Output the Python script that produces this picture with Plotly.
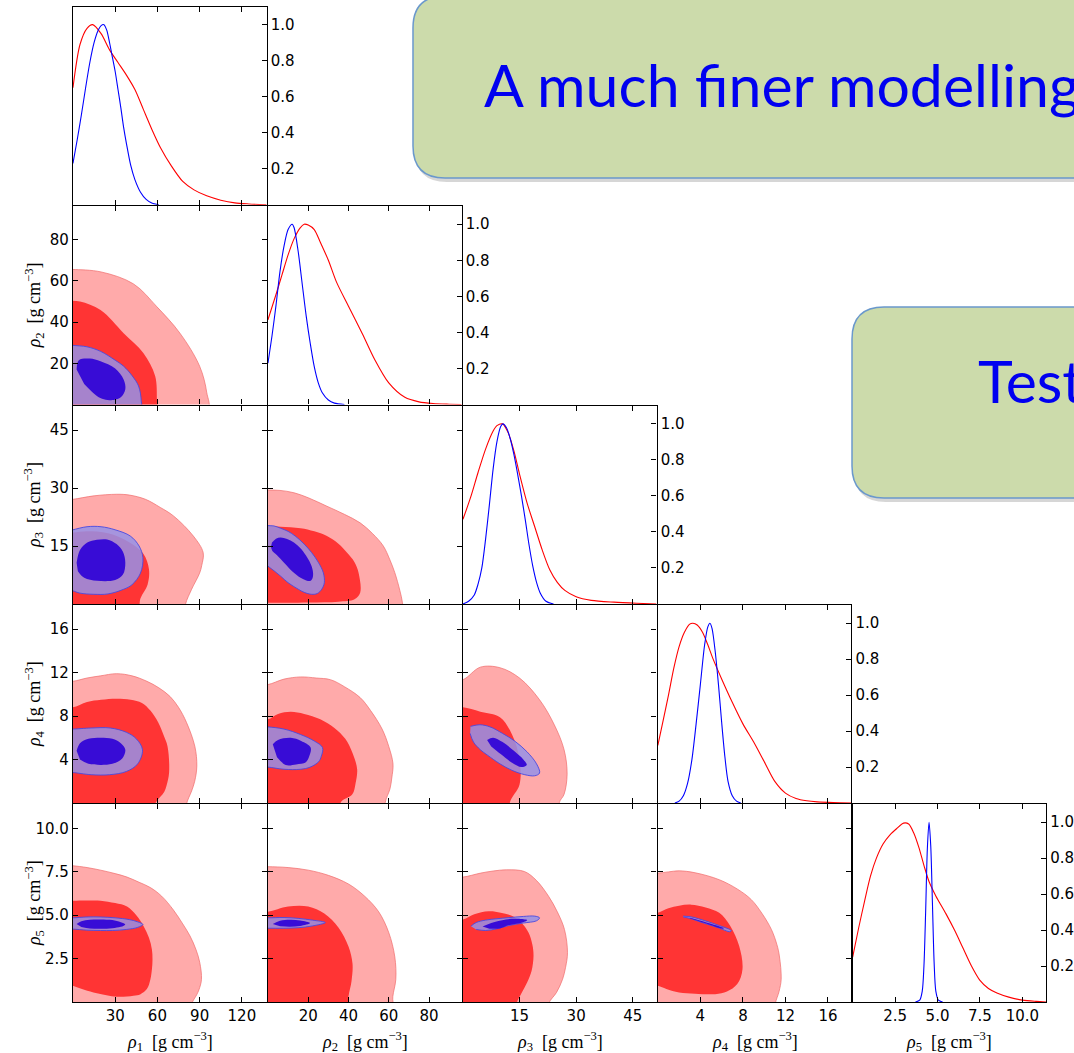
import plotly.graph_objects as go

# ---------------------------------------------------------------------------
# Figure geometry (pixels)
# ---------------------------------------------------------------------------
W, H = 1074, 1053
X_EDGES = [72.3, 267.3, 462.3, 657.2, 852.0, 1046.8]
Y_EDGES = [6.0, 205.5, 405.2, 604.6, 803.6, 1002.6]
LW = 1.3  # frame line width; panels are inset so neighbouring frames coincide

# ---------------------------------------------------------------------------
# Parameters, axis ranges and ticks
# ---------------------------------------------------------------------------
PARAM_IDX = ["1", "2", "3", "4", "5"]
RANGES = [137.6, 96.2, 51.3, 18.2, 11.4]
TICKS = [[30, 60, 90, 120], [20, 40, 60, 80], [15, 30, 45], [4, 8, 12, 16], [2.5, 5.0, 7.5, 10.0]]
TICK_TEXT = [["30", "60", "90", "120"], ["20", "40", "60", "80"], ["15", "30", "45"],
             ["4", "8", "12", "16"], ["2.5", "5.0", "7.5", "10.0"]]
DIAG_TICKS = [0.2, 0.4, 0.6, 0.8, 1.0]
DIAG_TICK_TEXT = ["0.2", "0.4", "0.6", "0.8", "1.0"]

# ---------------------------------------------------------------------------
# 1D marginal posteriors (normalised to peak = 1)
# ---------------------------------------------------------------------------
RHO1_RED_X = [0, 5, 10, 14, 20, 26, 32, 38, 44, 50, 56, 62, 70, 78, 86, 95, 105, 115, 125, 137.6]
RHO1_RED_Y = [0.65, 0.89, 0.98, 1.0, 0.95, 0.86, 0.79, 0.72, 0.64, 0.53, 0.42, 0.32, 0.215, 0.13,
              0.083, 0.05, 0.026, 0.011, 0.005, 0.0]
RHO1_BLUE_X = [0, 3, 6, 9, 12, 15, 18, 20, 22, 24, 26, 28, 30, 32, 34, 36, 38, 41, 44, 48, 52, 56, 61]
RHO1_BLUE_Y = [0.23, 0.36, 0.5, 0.65, 0.79, 0.9, 0.97, 0.995, 1.0, 0.97, 0.9, 0.82, 0.74, 0.64,
               0.54, 0.43, 0.34, 0.22, 0.14, 0.07, 0.03, 0.01, 0.0]

RHO2_RED_X = [0, 4, 7, 10, 13, 16, 18, 20, 23, 26, 30, 34, 40, 47, 53, 60, 68, 75, 82, 90, 96.2]
RHO2_RED_Y = [0.47, 0.61, 0.72, 0.83, 0.92, 0.98, 1.0, 0.995, 0.97, 0.9, 0.8, 0.68, 0.545, 0.39,
              0.25, 0.12, 0.04, 0.015, 0.006, 0.002, 0.0]
RHO2_BLUE_X = [0, 2, 4, 6, 8, 10, 12, 13, 15, 17, 19, 21, 23, 25, 27, 30, 33, 38]
RHO2_BLUE_Y = [0.23, 0.38, 0.55, 0.74, 0.88, 0.97, 1.0, 0.98, 0.85, 0.67, 0.49, 0.34, 0.21, 0.12,
               0.065, 0.025, 0.008, 0.0]

RHO3_RED_X = [0, 2, 4, 6, 8, 9, 10.5, 12, 13.5, 15, 17, 19, 21, 23, 25, 27, 30, 34, 40, 46, 51.3]
RHO3_RED_Y = [0.47, 0.59, 0.73, 0.86, 0.96, 0.99, 1.0, 0.95, 0.85, 0.72, 0.56, 0.43, 0.3, 0.19,
              0.12, 0.075, 0.04, 0.02, 0.01, 0.004, 0.0]
RHO3_BLUE_X = [0, 1.5, 3, 4, 5, 6, 7, 8, 9, 10, 10.6, 11.5, 12.5, 13.5, 14.5, 15.5, 16.5, 17.5,
               18.5, 19.5, 20.5, 22, 24]
RHO3_BLUE_Y = [0.0, 0.015, 0.05, 0.11, 0.2, 0.36, 0.55, 0.75, 0.9, 0.985, 1.0, 0.98, 0.92, 0.83,
               0.72, 0.6, 0.47, 0.33, 0.21, 0.12, 0.06, 0.015, 0.0]

RHO4_RED_X = [0, 0.5, 1, 1.5, 2, 2.5, 3, 3.3, 3.7, 4.2, 4.7, 5.2, 6, 7, 8, 9, 10, 11, 12, 13, 14,
              15, 16.5, 18.2]
RHO4_RED_Y = [0.32, 0.46, 0.6, 0.75, 0.87, 0.95, 0.995, 1.0, 0.99, 0.95, 0.88, 0.8, 0.69, 0.56,
              0.44, 0.34, 0.23, 0.12, 0.055, 0.025, 0.012, 0.006, 0.002, 0.0]
RHO4_BLUE_X = [1.6, 2.0, 2.4, 2.8, 3.2, 3.6, 4.0, 4.4, 4.7, 4.9, 5.1, 5.4, 5.7, 6.0, 6.3, 6.6,
               7.0, 7.4, 7.8]
RHO4_BLUE_Y = [0.0, 0.01, 0.04, 0.11, 0.24, 0.44, 0.66, 0.88, 0.98, 1.0, 0.97, 0.84, 0.66, 0.45,
               0.26, 0.12, 0.04, 0.01, 0.0]

RHO5_RED_X = [0, 0.35, 0.7, 1.05, 1.4, 1.8, 2.2, 2.6, 3.0, 3.3, 3.6, 3.9, 4.2, 4.5, 4.9, 5.5, 6.0,
              6.5, 7.0, 7.5, 8.0, 8.5, 9.2, 10.0, 10.8, 11.4]
RHO5_RED_Y = [0.25, 0.41, 0.56, 0.7, 0.8, 0.88, 0.93, 0.965, 0.995, 0.99, 0.94, 0.86, 0.76, 0.67,
              0.59, 0.49, 0.4, 0.3, 0.2, 0.12, 0.075, 0.05, 0.027, 0.01, 0.003, 0.0]
RHO5_BLUE_X = [3.7, 3.95, 4.1, 4.2, 4.3, 4.4, 4.5, 4.6, 4.7, 4.8, 4.9, 5.05, 5.3]
RHO5_BLUE_Y = [0.0, 0.01, 0.06, 0.2, 0.5, 0.85, 1.0, 0.87, 0.55, 0.22, 0.06, 0.01, 0.0]

# ---------------------------------------------------------------------------
# 2D credible regions: outer (95%) and inner (68%) contours for the two runs
# ---------------------------------------------------------------------------
# rho2 vs rho1
R21_RED95_X = [-5, 0, 20, 43, 59.5, 76, 90, 95, 95.5, -5]
R21_RED95_Y = [65.5, 65.5, 64.3, 58.5, 47.5, 34.6, 18.6, 6, -3, -3]
R21_RED68_X = [-5, 5, 19.6, 36, 50, 58.4, 59.7, 60, -5]
R21_RED68_Y = [50.3, 50, 45.8, 34.6, 25, 13.8, 2, -3, -3]
R21_BLUE95_X = [-3, 0, 10, 19.6, 30, 36, 42, 46.6, 48.5, 48, -3]
R21_BLUE95_Y = [29, 28.7, 28, 25.8, 21.5, 18.6, 14, 9, 2, -3, -3]
R21_BLUE68_X = [2.6, 4.2, 12, 19.6, 30, 36, 37.2, 34, 29, 22, 17, 8]
R21_BLUE68_Y = [17, 21.5, 22.3, 21, 17.5, 12.2, 7.4, 3.5, 2.2, 2.6, 4.2, 10]

# rho3 vs rho1
R31_RED95_X = [-5, 0, 15, 31, 40, 51.5, 62, 71.4, 85.5, 92.5, 91.5, 90, 84.3, 80, 79, -5]
R31_RED95_Y = [27, 27.1, 28, 28.4, 28.2, 27.1, 25, 22.8, 17.6, 13.3, 10, 8, 3.8, 0, -3, -3]
R31_RED68_X = [-5, 0, 10, 25, 40, 50, 54, 53, 48, 45, -5]
R31_RED68_Y = [18.5, 18.5, 18.8, 18.3, 16, 13, 9, 5, 1.5, -3, -3]
R31_BLUE95_X = [-2, 0, 10, 20, 30, 40.7, 47, 49.7, 48, 42, 36, 25, 14.8, 5, 0, -2]
R31_BLUE95_Y = [19, 19.2, 20, 20, 19.2, 17.6, 15, 12, 8, 5, 3.8, 2.6, 2.5, 2.8, 3.4, 3.6]
R31_BLUE68_X = [2.6, 5, 10.2, 17, 24.3, 31, 35.5, 37.2, 35.5, 30, 17.2, 8, 3.5]
R31_BLUE68_Y = [10.7, 14, 15.9, 16.6, 16.7, 15.5, 13.5, 10.7, 7.6, 6.2, 6, 6.8, 8.5]

# rho4 vs rho1
R41_RED95_X = [-5, 0, 10, 19.6, 31, 42, 52.5, 61, 69, 75, 80.7, 86.6, 88, 86.5, 84.3, 80.5, 80, -5]
R41_RED95_Y = [11.2, 11.2, 11.5, 11.7, 11.9, 11.7, 11.2, 10.6, 9.8, 8.8, 7.4, 5.2, 3.4, 2, 1.1,
               -0.2, -3, -3]
R41_RED68_X = [-5, 0, 10, 20, 31, 41, 49, 55, 60.6, 64.5, 67.2, 68.3, 66.5, 64.8, 58, 57.5, -5]
R41_RED68_Y = [8.8, 8.8, 9.3, 9.5, 9.6, 9.5, 9.2, 8.5, 7.4, 6.2, 5.2, 2.8, 1.6, 1, -0.2, -3, -3]
R41_BLUE95_X = [-2, 0, 13, 26.6, 38, 45, 49.4, 46, 38, 26, 13, 0, -2]
R41_BLUE95_Y = [6.8, 6.8, 6.9, 6.9, 6.5, 5.9, 4.9, 3.6, 2.9, 2.6, 2.6, 2.8, 2.8]
R41_BLUE68_X = [2.6, 5, 11, 19.6, 28, 34, 37.2, 35, 28, 19.6, 11, 5]
R41_BLUE68_Y = [4.8, 5.5, 5.9, 6.0, 5.9, 5.5, 4.9, 4.1, 3.6, 3.5, 3.6, 4.0]

# rho5 vs rho1
R51_RED95_X = [-5, 0, 10, 19.6, 30, 38.4, 47, 54.9, 63, 71.4, 78, 83.2, 87.5, 90.1, 91.3, 89.5,
               87.8, 84.5, 84, -5]
R51_RED95_Y = [7.85, 7.85, 7.75, 7.6, 7.4, 7.2, 6.9, 6.6, 6.1, 5.3, 4.5, 3.8, 3.0, 2.27, 1.3, 0.7,
               0.4, -0.1, -1, -1]
R51_RED68_X = [-5, 0, 10, 19.6, 30, 38.4, 45, 50.2, 54, 56.1, 56.5, 56.1, 55, 52.5, 48, 43, 31, 17,
               8, 0, -5]
R51_RED68_Y = [5.84, 5.84, 5.85, 5.84, 5.7, 5.5, 5.0, 4.37, 3.7, 3.03, 2.4, 1.89, 1.3, 0.74, 0.45,
               0.36, 0.3, 0.5, 0.7, 0.93, 1.1]
R51_BLUE95_X = [-2, 0, 10, 19.6, 30, 40, 46, 49.7, 46, 38, 28, 19.6, 10, 0, -2]
R51_BLUE95_Y = [4.85, 4.85, 4.9, 4.9, 4.85, 4.75, 4.62, 4.47, 4.3, 4.18, 4.12, 4.12, 4.14, 4.2, 4.2]
R51_BLUE68_X = [2.6, 6, 12, 19.6, 28, 34, 37.2, 34, 28, 19.6, 12, 6]
R51_BLUE68_Y = [4.5, 4.65, 4.74, 4.76, 4.72, 4.6, 4.47, 4.33, 4.25, 4.22, 4.24, 4.32]

# rho3 vs rho2
R32_RED95_X = [-5, 0, 6, 12.9, 20, 29.3, 38, 45.8, 52, 57.3, 60.5, 63, 65.5, 66.8, 67, -5]
R32_RED95_Y = [29.5, 29.5, 29.4, 28.8, 27.5, 25.3, 23.2, 21, 18.2, 15, 11.5, 8.1, 3.5, 0.3, -3, -3]
R32_RED68_X = [-5, 0, 6.3, 16.2, 23, 29.3, 35, 39.2, 43, 45, 45.8, 43, 35, 20, 0, -5]
R32_RED68_Y = [20.2, 20.2, 20, 19.6, 18.8, 17.6, 15.6, 13.3, 10.8, 8.1, 2.9, 1.2, 0.6, 0.4, 0.3, 0.3]
R32_BLUE95_X = [-2, 0, 3, 6.3, 10, 13.5, 18, 21.7, 25, 27.5, 28, 26.7, 24.5, 21.7, 18, 15.1, 10,
                6.3, 3, 0, -2]
R32_BLUE95_Y = [20.5, 20.3, 20.2, 19.6, 18.8, 17.6, 15.5, 13.3, 10.8, 8.1, 5.5, 3.8, 2.7, 2.5, 3,
                3.8, 5.5, 7.2, 8.6, 9.8, 11]
R32_BLUE68_X = [2, 4, 6.3, 9.5, 12.9, 16.5, 19.5, 21.5, 22.4, 22.2, 21.2, 19, 16.2, 12, 8, 4.5,
                2.2, 1.5]
R32_BLUE68_Y = [15.9, 16.9, 17.2, 16.8, 15.9, 14.2, 12, 10, 8.1, 6.8, 6, 6.1, 6.8, 8.5, 10.7,
                12.6, 13.7, 14.8]

# rho4 vs rho2
R42_RED95_X = [-5, 0, 8, 16.2, 24, 31, 38, 45.8, 51, 56.7, 60, 62.1, 61.5, 60.6, 58.2, 58, -5]
R42_RED95_Y = [10.9, 10.9, 11.4, 11.6, 11.5, 11.35, 10.7, 9.7, 8.5, 6.8, 5.2, 3.6, 2.3, 1.3, 0,
               -3, -3]
R42_RED68_X = [-5, 0, 5, 11.3, 18, 26, 33, 38.4, 42, 44.3, 43.5, 41.9, 36, 35.5, -5]
R42_RED68_Y = [7.7, 7.7, 8.2, 8.4, 8.2, 7.7, 6.9, 5.9, 4.6, 3.1, 1.8, 0.8, 0, -3, -3]
R42_BLUE95_X = [-2, 0, 8, 16.2, 23, 27.1, 26.5, 25.2, 21, 16.2, 8, 0, -2]
R42_BLUE95_Y = [7, 7, 6.8, 6.3, 5.7, 5.1, 4.3, 3.8, 3.3, 3.1, 3.1, 3.3, 3.3]
R42_BLUE68_X = [2.4, 5, 11.3, 16.5, 21.2, 20.5, 18.8, 14, 8.8, 4.5]
R42_BLUE68_Y = [5.4, 5.8, 6.0, 5.7, 5.1, 4.3, 3.75, 3.55, 3.5, 4.2]

# rho5 vs rho2
R52_RED95_X = [-5, 0, 10, 20, 30, 40, 48, 55, 60, 63, 63.5, 62, 61.5, -5]
R52_RED95_Y = [7.8, 7.8, 7.75, 7.6, 7.3, 6.8, 6.1, 5.2, 4, 2.6, 1.3, 0.3, -1, -1]
R52_RED68_X = [-5, 0, 10, 20, 28, 35, 40, 42, 41.5, 40, 39.8, -5]
R52_RED68_Y = [5.2, 5.2, 5.5, 5.5, 5.1, 4.3, 3.2, 2.2, 1.2, 0.3, -1, -1]
R52_BLUE95_X = [-2, 0, 8, 15, 22, 28.5, 22, 15, 8, 0, -2]
R52_BLUE95_Y = [4.85, 4.85, 4.87, 4.82, 4.72, 4.58, 4.38, 4.28, 4.25, 4.25, 4.25]
R52_BLUE68_X = [2.4, 6, 11, 16, 21, 16, 11, 6]
R52_BLUE68_Y = [4.5, 4.68, 4.74, 4.7, 4.55, 4.38, 4.34, 4.36]

# rho4 vs rho3
R43_RED95_X = [-3, 0, 4.6, 9.8, 15, 20.3, 24.2, 26.8, 27.6, 26.8, 25.5, 25.3, -3]
R43_RED95_Y = [11.35, 11.35, 12.5, 12.45, 11.5, 9.5, 7.2, 4.9, 2.65, 0.8, 0, -3, -3]
R43_RED68_X = [-3, 0, 4.6, 9.8, 13, 15, 15, 12.4, 12.2, -3]
R43_RED68_Y = [8.8, 8.8, 8.4, 7.9, 6.3, 4, 1.7, 0, -3, -3]
R43_BLUE95_X = [2.0, 4.5, 7.2, 10.5, 13.7, 17, 19.5, 20.3, 19, 16.4, 13, 9.8, 6.5, 4.6, 2.8, 1.9]
R43_BLUE95_Y = [7.05, 7.2, 7.0, 6.4, 5.7, 4.7, 3.6, 2.75, 2.5, 2.6, 3.0, 3.6, 4.4, 4.9, 5.6, 6.4]
R43_BLUE68_X = [6.4, 8, 10.5, 13.5, 16, 16.9, 15.5, 13, 10, 7.5]
R43_BLUE68_Y = [5.8, 6.0, 5.6, 4.8, 4.0, 3.5, 3.3, 3.7, 4.5, 5.2]

# rho5 vs rho3
R53_RED95_X = [-3, 0, 4.7, 8, 11.6, 16.3, 19.5, 22.7, 25, 26.9, 27.7, 27.2, 26.4, 24.8, 22.7, 22.5, -3]
R53_RED95_Y = [7.2, 7.2, 7.43, 7.55, 7.62, 7.52, 7.0, 6.09, 5.2, 4.18, 2.84, 2.0, 1.31, 0.55, -0.1,
               -1, -1]
R53_RED68_X = [-3, 0, 3, 6.8, 10, 13.2, 15.8, 17.4, 18.4, 18.7, 18.2, 17, 15.5, 14.2, 14, -3]
R53_RED68_Y = [4.75, 4.75, 5.05, 5.23, 5.15, 4.94, 4.5, 3.99, 3.3, 2.65, 1.8, 1.12, 0.5, -0.1, -1, -1]
R53_BLUE95_X = [2.1, 3.5, 6, 9, 12, 16, 19, 20.3, 19.5, 16, 12, 9, 6, 3.5]
R53_BLUE95_Y = [4.37, 4.58, 4.72, 4.8, 4.86, 4.93, 4.95, 4.85, 4.68, 4.55, 4.4, 4.22, 4.12, 4.18]
R53_BLUE68_X = [5.2, 7.5, 11.4, 14.5, 17, 15.5, 12, 9.8, 7]
R53_BLUE68_Y = [4.35, 4.55, 4.76, 4.8, 4.72, 4.57, 4.42, 4.24, 4.22]

# rho5 vs rho4
R54_RED95_X = [-1, 0, 1, 2, 3.5, 5.77, 7.5, 8.79, 9.8, 10.68, 11.2, 11.43, 11.6, 11.4, 11.05, 11, -1]
R54_RED95_Y = [7.43, 7.43, 7.5, 7.56, 7.45, 7.05, 6.5, 5.9, 5.1, 4.18, 3.3, 2.65, 1.31, 0.6, -0.1,
               -1, -1]
R54_RED68_X = [-1, 0, 1, 2, 3.13, 4.5, 5.77, 6.8, 7.65, 7.96, 7.47, 6.5, 5.4, 3.5, 2, 0.8, 0, -1]
R54_RED68_Y = [5.0, 5.14, 5.4, 5.55, 5.61, 5.45, 5.14, 4.4, 3.22, 1.89, 1.03, 0.6, 0.45, 0.48, 0.55,
               0.75, 0.93, 1.1]
R54_BLUE95_X = [2.38, 3.2, 4.5, 5.8, 6.9, 6.8, 5.6, 4.3, 3.0, 2.4]
R54_BLUE95_Y = [4.95, 4.9, 4.67, 4.4, 4.12, 4.05, 4.3, 4.55, 4.82, 4.9]
R54_BLUE68_X = [3.0, 4.5, 6.2, 6.1, 4.4, 3.0]
R54_BLUE68_Y = [4.86, 4.6, 4.25, 4.22, 4.55, 4.83]

DIAG_CURVES = [
    (RHO1_RED_X, RHO1_RED_Y, RHO1_BLUE_X, RHO1_BLUE_Y),
    (RHO2_RED_X, RHO2_RED_Y, RHO2_BLUE_X, RHO2_BLUE_Y),
    (RHO3_RED_X, RHO3_RED_Y, RHO3_BLUE_X, RHO3_BLUE_Y),
    (RHO4_RED_X, RHO4_RED_Y, RHO4_BLUE_X, RHO4_BLUE_Y),
    (RHO5_RED_X, RHO5_RED_Y, RHO5_BLUE_X, RHO5_BLUE_Y),
]

PAIR_REGIONS = {
    (1, 0): (R21_RED95_X, R21_RED95_Y, R21_RED68_X, R21_RED68_Y, R21_BLUE95_X, R21_BLUE95_Y, R21_BLUE68_X, R21_BLUE68_Y),
    (2, 0): (R31_RED95_X, R31_RED95_Y, R31_RED68_X, R31_RED68_Y, R31_BLUE95_X, R31_BLUE95_Y, R31_BLUE68_X, R31_BLUE68_Y),
    (3, 0): (R41_RED95_X, R41_RED95_Y, R41_RED68_X, R41_RED68_Y, R41_BLUE95_X, R41_BLUE95_Y, R41_BLUE68_X, R41_BLUE68_Y),
    (4, 0): (R51_RED95_X, R51_RED95_Y, R51_RED68_X, R51_RED68_Y, R51_BLUE95_X, R51_BLUE95_Y, R51_BLUE68_X, R51_BLUE68_Y),
    (2, 1): (R32_RED95_X, R32_RED95_Y, R32_RED68_X, R32_RED68_Y, R32_BLUE95_X, R32_BLUE95_Y, R32_BLUE68_X, R32_BLUE68_Y),
    (3, 1): (R42_RED95_X, R42_RED95_Y, R42_RED68_X, R42_RED68_Y, R42_BLUE95_X, R42_BLUE95_Y, R42_BLUE68_X, R42_BLUE68_Y),
    (4, 1): (R52_RED95_X, R52_RED95_Y, R52_RED68_X, R52_RED68_Y, R52_BLUE95_X, R52_BLUE95_Y, R52_BLUE68_X, R52_BLUE68_Y),
    (3, 2): (R43_RED95_X, R43_RED95_Y, R43_RED68_X, R43_RED68_Y, R43_BLUE95_X, R43_BLUE95_Y, R43_BLUE68_X, R43_BLUE68_Y),
    (4, 2): (R53_RED95_X, R53_RED95_Y, R53_RED68_X, R53_RED68_Y, R53_BLUE95_X, R53_BLUE95_Y, R53_BLUE68_X, R53_BLUE68_Y),
    (4, 3): (R54_RED95_X, R54_RED95_Y, R54_RED68_X, R54_RED68_Y, R54_BLUE95_X, R54_BLUE95_Y, R54_BLUE68_X, R54_BLUE68_Y),
}

# ---------------------------------------------------------------------------
# Styles
# ---------------------------------------------------------------------------
PINK = "#FFAAAA"
PINK_EDGE = "rgba(240,110,110,0.9)"
RED = "#FF3434"
LAVENDER = "rgba(150,146,232,0.85)"
LAVENDER_EDGE = "#4A4AE0"
INDIGO = "#380CD6"
LINE_RED = "#FF0000"
LINE_BLUE = "#0000FF"
TICK_FONT = dict(family="DejaVu Sans", size=15, color="black")
LABEL_FONT = dict(family="Liberation Serif", size=18, color="black")
BOX_FILL = "#CCDBAB"
BOX_EDGE = "#6A98CC"
BOX_TEXT = "#0000F0"

fig = go.Figure()

# axis index for each panel of the lower triangle
AX = {}
k = 0
for i in range(5):
    for j in range(i + 1):
        k += 1
        AX[(i, j)] = k


def refs(i, j):
    n = AX[(i, j)]
    s = "" if n == 1 else str(n)
    return "x" + s, "y" + s


def region(i, j, xs, ys, fill, edge, width):
    xr, yr = refs(i, j)
    fig.add_trace(go.Scatter(
        x=xs, y=ys, xaxis=xr, yaxis=yr, mode="lines", fill="toself",
        fillcolor=fill, line=dict(color=edge, width=width, shape="spline", smoothing=1.0),
        hoverinfo="skip", showlegend=False))


# off-diagonal panels
for (i, j), (rx95, ry95, rx68, ry68, bx95, by95, bx68, by68) in PAIR_REGIONS.items():
    region(i, j, rx95, ry95, PINK, PINK_EDGE, 0.8)
    region(i, j, rx68, ry68, RED, RED, 0)
    region(i, j, bx95, by95, LAVENDER, LAVENDER_EDGE, 0.9)
    region(i, j, bx68, by68, INDIGO, INDIGO, 0)

# diagonal panels
for d, (rx, ry, bx, by) in enumerate(DIAG_CURVES):
    xr, yr = refs(d, d)
    for xs, ys, col in ((rx, ry, LINE_RED), (bx, by, LINE_BLUE)):
        fig.add_trace(go.Scatter(
            x=xs, y=ys, xaxis=xr, yaxis=yr, mode="lines",
            line=dict(color=col, width=1.1, shape="spline", smoothing=0.8),
            hoverinfo="skip", showlegend=False))

# axes
layout_axes = {}
for (i, j), n in AX.items():
    s = "" if n == 1 else str(n)
    xdom = [(X_EDGES[j] + LW / 2) / W, (X_EDGES[j + 1] - LW / 2) / W]
    ydom = [1 - (Y_EDGES[i + 1] - LW / 2) / H, 1 - (Y_EDGES[i] + LW / 2) / H]
    common = dict(showgrid=False, zeroline=False, showline=True, linecolor="black", linewidth=LW,
                  ticks="inside", ticklen=5, tickwidth=1, tickcolor="black", tickfont=TICK_FONT)
    layout_axes["xaxis" + s] = dict(
        common, domain=xdom, range=[0, RANGES[j]], anchor="y" + s, tickmode="array",
        tickvals=TICKS[j], ticktext=TICK_TEXT[j], showticklabels=(i == 4), mirror="ticks")
    if i == j:
        layout_axes["yaxis" + s] = dict(
            common, domain=ydom, range=[0, 1.1], anchor="x" + s, side="right", tickmode="array",
            tickvals=DIAG_TICKS, ticktext=DIAG_TICK_TEXT, showticklabels=True, mirror=True)
    else:
        layout_axes["yaxis" + s] = dict(
            common, domain=ydom, range=[0, RANGES[i]], anchor="x" + s, tickmode="array",
            tickvals=TICKS[i], ticktext=TICK_TEXT[i], showticklabels=(j == 0), mirror="ticks")

annotations = []
label_tpl = "<i>ρ</i><sub>{}</sub>\u00a0\u00a0[g\u00a0cm<sup>−3</sup>]"
for j in range(5):
    annotations.append(dict(
        text=label_tpl.format(PARAM_IDX[j]), xref="paper", yref="paper",
        x=(X_EDGES[j] + X_EDGES[j + 1]) / 2 / W, y=1 - 1041 / H,
        xanchor="center", yanchor="middle", showarrow=False, font=LABEL_FONT))
for i in range(1, 5):
    annotations.append(dict(
        text=label_tpl.format(PARAM_IDX[i]), xref="paper", yref="paper",
        x=34 / W, y=1 - (Y_EDGES[i] + Y_EDGES[i + 1]) / 2 / H,
        xanchor="center", yanchor="middle", textangle=-90, showarrow=False, font=LABEL_FONT))


# callout boxes (pixel geometry converted to paper coordinates)
def rounded_box(x0, y0, x1, y1, r):
    def P(px, py):
        return f"{px / W:.5f},{1 - py / H:.5f}"
    return (f"M {P(x0 + r, y0)} L {P(x1 - r, y0)} Q {P(x1, y0)} {P(x1, y0 + r)} "
            f"L {P(x1, y1 - r)} Q {P(x1, y1)} {P(x1 - r, y1)} L {P(x0 + r, y1)} "
            f"Q {P(x0, y1)} {P(x0, y1 - r)} L {P(x0, y0 + r)} Q {P(x0, y0)} {P(x0 + r, y0)} Z")


shapes = []
for (bx0, by0, bx1, by1) in ((413, -4, 1300, 178), (852, 307, 1300, 498)):
    shapes.append(dict(type="path", xref="paper", yref="paper", layer="above",
                       path=rounded_box(bx0 + 2, by0 + 4, bx1 + 2, by1 + 4, 32),
                       fillcolor="rgba(90,90,90,0.25)", line=dict(width=0)))
    shapes.append(dict(type="path", xref="paper", yref="paper", layer="above",
                       path=rounded_box(bx0, by0, bx1, by1, 32),
                       fillcolor=BOX_FILL, line=dict(color=BOX_EDGE, width=1.5)))

BOX_FONT = dict(family="Lato", size=59, color=BOX_TEXT)
annotations.append(dict(text="A much finer modelling", xref="paper", yref="paper",
                        x=482 / W, y=1 - 84 / H, xanchor="left", yanchor="middle",
                        showarrow=False, font=BOX_FONT))
annotations.append(dict(text="Test", xref="paper", yref="paper",
                        x=976 / W, y=1 - 380 / H, xanchor="left", yanchor="middle",
                        showarrow=False, font=BOX_FONT))

fig.update_layout(
    width=W, height=H, margin=dict(l=0, r=0, t=0, b=0),
    paper_bgcolor="white", plot_bgcolor="white",
    showlegend=False, annotations=annotations, shapes=shapes, **layout_axes)

fig.write_html("out.html")
